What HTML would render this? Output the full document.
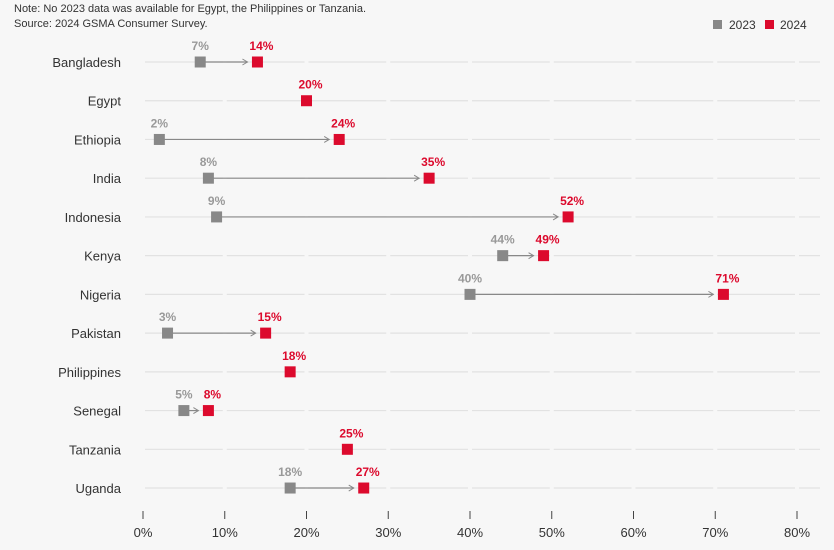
<!DOCTYPE html>
<html><head><meta charset="utf-8"><style>
body{margin:0;background:#f7f7f7;font-family:"Liberation Sans",sans-serif;}
svg{display:block}
</style></head><body>
<svg id="chart" width="834" height="550" xmlns="http://www.w3.org/2000/svg">
<rect width="834" height="550" fill="#f7f7f7"/>
<text x="14" y="12" font-size="11" fill="#333">Note: No 2023 data was available for Egypt, the Philippines or Tanzania.</text>
<text x="14" y="27" font-size="11" fill="#333">Source: 2024 GSMA Consumer Survey.</text>
<g>
<rect x="713" y="20" width="9" height="9" fill="#888"/>
<text x="729" y="29" font-size="12" fill="#333">2023</text>
<rect x="765" y="20" width="9" height="9" fill="#dc0a2d"/>
<text x="780" y="29" font-size="12" fill="#333">2024</text>
</g>
<defs><marker id="ar" markerWidth="8" markerHeight="8" refX="6" refY="4" orient="auto" markerUnits="userSpaceOnUse"><path d="M1,1 L6,4 L1,7" fill="none" stroke="#888" stroke-width="1"/></marker></defs>
<g id="plot"></g>
</svg>
<script>
const countries=["Bangladesh","Egypt","Ethiopia","India","Indonesia","Kenya","Nigeria","Pakistan","Philippines","Senegal","Tanzania","Uganda"];
const values2023=[7,null,2,8,9,44,40,3,null,5,null,18];
const values2024=[14,20,24,35,52,49,71,15,18,8,25,27];
const ticks=[0,10,20,30,40,50,60,70,80];
const NS="http://www.w3.org/2000/svg";
const g=document.getElementById('plot');
const x=v=>143+v*8.175;
const y=i=>62+i*38.73;
function mk(t,a){const e=document.createElementNS(NS,t);for(const k in a)e.setAttribute(k,a[k]);g.appendChild(e);return e;}
ticks.forEach(t=>{
  const tk=mk('line',{x1:x(t),x2:x(t),y1:511,y2:519,stroke:'#444','stroke-width':1});
  
  
  const lb=mk('text',{x:x(t),y:537,'font-size':13,fill:'#333','text-anchor':'middle'});
  lb.textContent=t+'%';
  
  
});
countries.forEach((c,i)=>{
  const yy=y(i);
  for(let k=0;k<ticks.length;k++){
    const a=k===0?x(0)+2:x(ticks[k])+2, b=k<ticks.length-1?x(ticks[k+1])-2:820;
    const gl=mk('line',{x1:a,x2:b,y1:yy,y2:yy,stroke:'#e2e2e2','stroke-width':1.2});
    
    
  }
  const cl=mk('text',{x:121,y:yy+5,'font-size':13,fill:'#333','text-anchor':'end'});
  cl.textContent=c;
  
  
  const v0=values2023[i],v1=values2024[i];
  if(v0!==null){
    const ln=mk('line',{x1:x(v0)+5,x2:x(v1)-10,y1:yy,y2:yy,stroke:'#888','stroke-width':1.2,'marker-end':'url(#ar)'});
    
    
    const m=mk('rect',{x:x(v0)-5.5,y:yy-5.5,width:11,height:11,fill:'#888'});
    
    
    const t=mk('text',{x:x(v0),y:yy-12,'font-size':12,'font-weight':'bold',fill:'#999','text-anchor':'middle'});
    t.textContent=v0+'%';
    
    
  }
  const m2=mk('rect',{x:x(v1)-5.5,y:yy-5.5,width:11,height:11,fill:'#dc0a2d'});
  
  
  const t2=mk('text',{x:x(v1)+4,y:yy-12,'font-size':12,'font-weight':'bold',fill:'#dc0a2d','text-anchor':'middle'});
  t2.textContent=v1+'%';
  
  
});
</script>
</body></html>
